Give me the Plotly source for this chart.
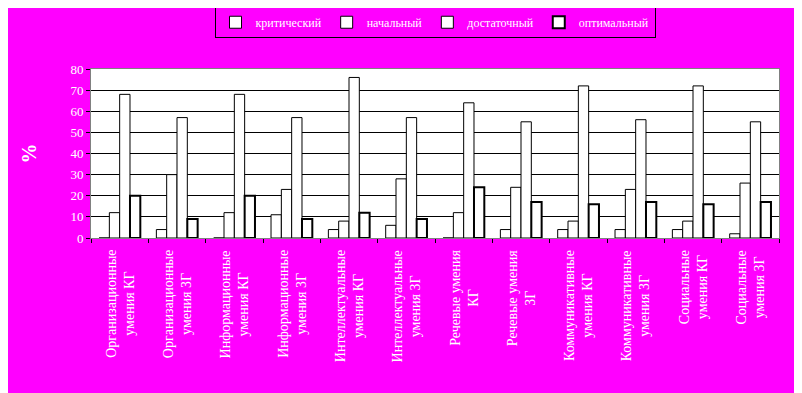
import plotly.graph_objects as go

categories = [
    "Организационные<br>умения КГ",
    "Организационные<br>умения ЗГ",
    "Информационные<br>умения КГ",
    "Информационные<br>умения ЗГ",
    "Интеллектуальные<br>умения КГ",
    "Интеллектуальные<br>умения ЗГ",
    "Речевые умения<br>КГ",
    "Речевые умения<br>ЗГ",
    "Коммуникативные<br>умения КГ",
    "Коммуникативные<br>умения ЗГ",
    "Социальные<br>умения КГ",
    "Социальные<br>умения ЗГ",
]
series_names = ["критический", "начальный", "достаточный", "оптимальный"]
kritich = [0, 4, 0, 11, 4, 6, 0, 4, 4, 4, 4, 2]
nachal = [12, 30, 12, 23, 8, 28, 12, 24, 8, 23, 8, 26]
dostat = [68, 57, 68, 57, 76, 57, 64, 55, 72, 56, 72, 55]
optim = [20, 9, 20, 9, 12, 9, 24, 17, 16, 17, 16, 17]
y_ticks = [0, 10, 20, 30, 40, 50, 60, 70, 80]

MAG = "#FF00FF"
FONT = "Liberation Serif"

fig = go.Figure()
for name, vals, lw in zip(series_names, [kritich, nachal, dostat, optim], [1, 1, 1, 2]):
    fig.add_trace(go.Bar(
        x=categories, y=vals, name=name,
        marker=dict(color="white", line=dict(color="black", width=lw)),
    ))

for c in categories:
    fig.add_annotation(
        x=c, xref="x", y=-0.06, yref="paper",
        text=c, textangle=-90, showarrow=False,
        xanchor="center", yanchor="top", align="center",
        font=dict(family=FONT, size=14, color="white"),
    )

# the page body has an 8px default margin, so the figure is sized to fit inside it
fig.update_layout(
    width=794, height=385,
    paper_bgcolor=MAG, plot_bgcolor="white",
    margin=dict(l=83, r=23, t=61, b=155, autoexpand=False),
    barmode="group", bargap=0.28, bargroupgap=0,
    font=dict(family=FONT, size=13, color="white"),
    legend=dict(
        orientation="h", x=0.5, xanchor="center",
        yref="container", y=0.963, yanchor="middle",
        bgcolor=MAG, bordercolor="black", borderwidth=1,
        font=dict(family=FONT, size=12, color="white"),
        itemwidth=30, tracegroupgap=0,
    ),
    showlegend=True,
)
fig.update_xaxes(
    type="category", showticklabels=False, automargin=False,
    ticks="outside", tickson="boundaries", ticklen=4, tickcolor="black",
    showline=True, linecolor="gray", mirror=True, showgrid=False,
)
fig.update_yaxes(
    range=[0, 80], tickvals=y_ticks, ticktext=[str(v) for v in y_ticks],
    automargin=False,
    ticks="outside", ticklen=4, tickcolor="black",
    tickfont=dict(family=FONT, size=13, color="white"),
    showgrid=True, gridcolor="black", gridwidth=1,
    zeroline=True, zerolinecolor="black", zerolinewidth=1,
    showline=True, linecolor="gray", mirror=True,
    title=dict(text="<b>%</b>", font=dict(family=FONT, size=20, color="white"), standoff=28),
)

fig.write_html("out.html")
